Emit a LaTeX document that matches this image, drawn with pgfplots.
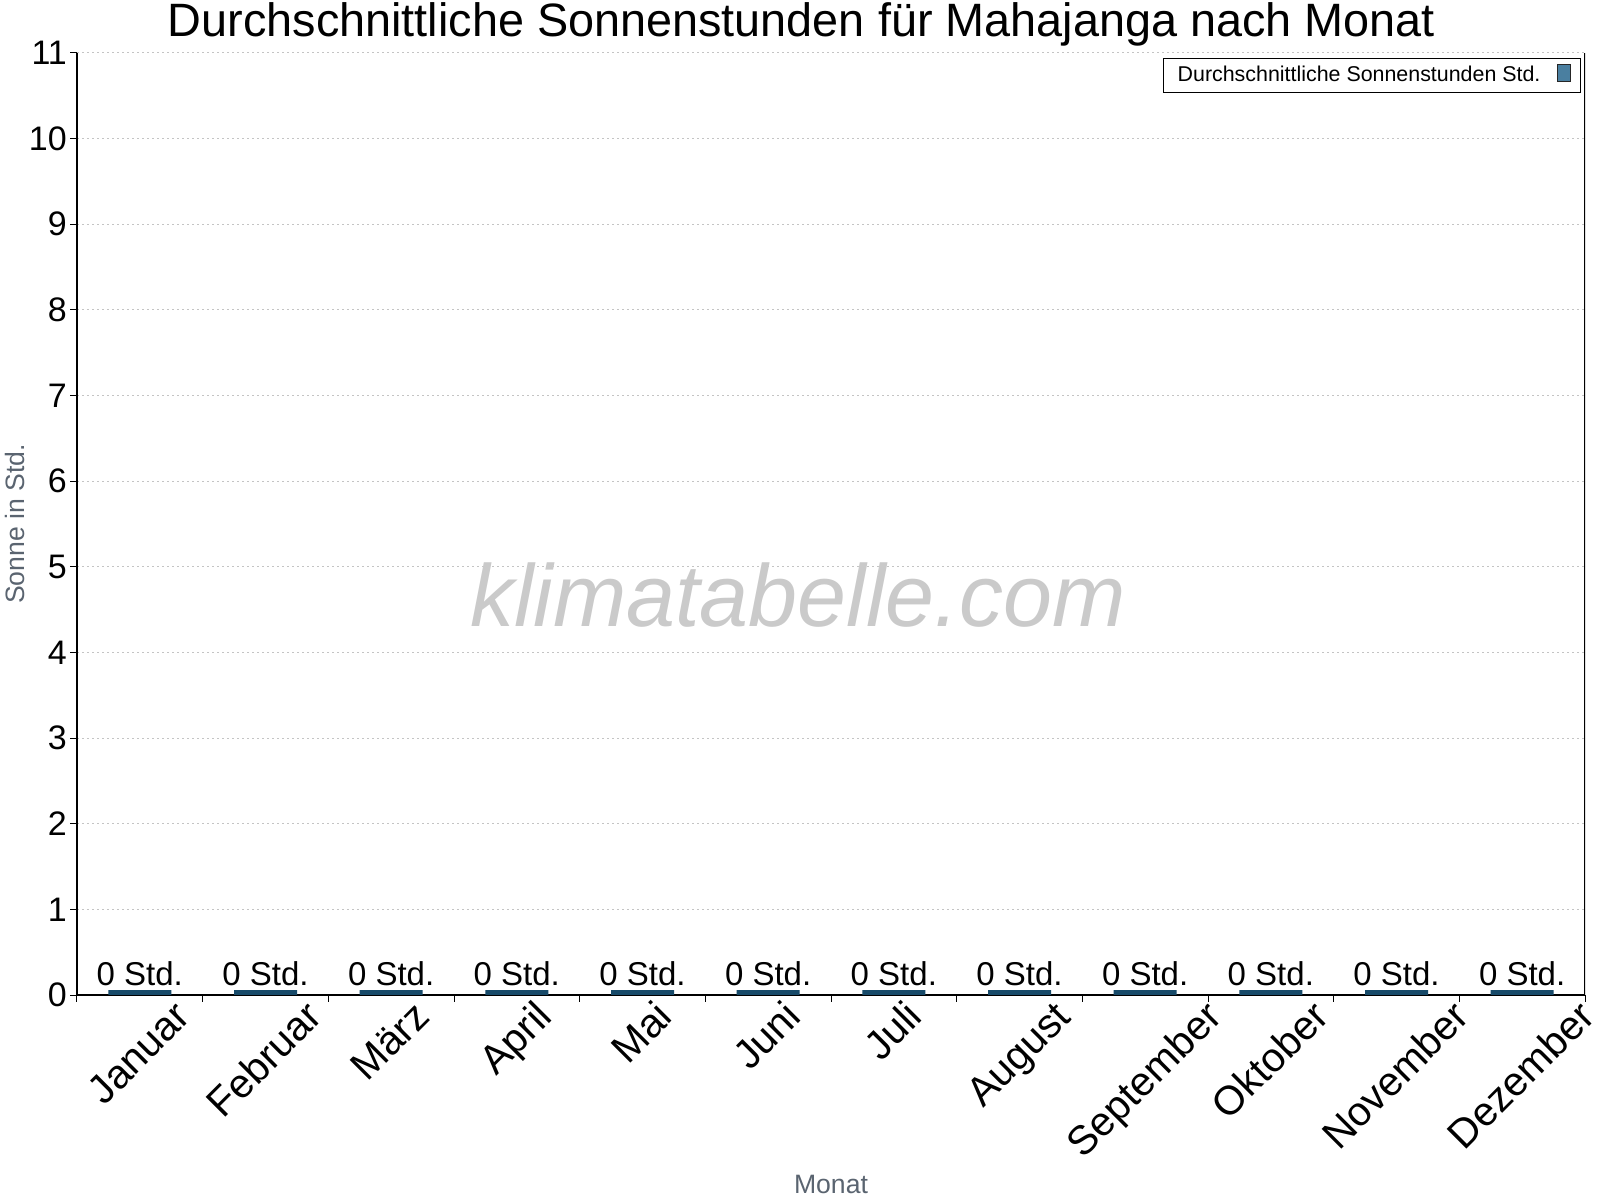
\documentclass[border=0pt]{standalone}
\usepackage{fontspec}
\setmainfont{Liberation Sans}
\usepackage{pgfplots}
\usepackage{pgfplotstable}
\pgfplotsset{compat=1.18}
\definecolor{barcol}{HTML}{174A69}
\definecolor{legcol}{HTML}{4A7FA0}
\definecolor{labgray}{HTML}{5A6470}
\definecolor{gridgray}{HTML}{C4C4C4}
\definecolor{wmgray}{HTML}{CACACA}

% month label: shifts the rotated text to the right by half its width * cos45
\newlength\labw
\newcommand\ml[1]{\settowidth{\labw}{#1}\raisebox{-0.25\labw}{#1}\hspace*{-0.25\labw}}

\pgfplotstableread{
x sun
0 0
1 0
2 0
3 0
4 0
5 0
6 0
7 0
8 0
9 0
10 0
11 0
}\suntable

\begin{document}
\begin{tikzpicture}
\path[use as bounding box] (-38.5pt,-102.5pt) rectangle (761.5pt,497.5pt);
\begin{axis}[
  at={(0,0)}, anchor=south west,
  scale only axis, width=754pt, height=471pt,
  xmin=-0.5, xmax=11.5, ymin=0, ymax=11,
  axis x line*=bottom, axis y line*=left,
  axis line style={line width=0.6pt, black},
  xtick={-0.5,0.5,...,11.5},
  x tick label as interval,
  xticklabels={\ml{Januar},\ml{Februar},\ml{März},\ml{April},\ml{Mai},\ml{Juni},\ml{Juli},\ml{August},\ml{September},\ml{Oktober},\ml{November},\ml{Dezember}},
  ytick={0,1,...,11},
  tick align=outside,
  major tick length=3.4pt,
  tick style={black, line width=0.5pt},
  /pgf/number format/assume math mode=true,
  yticklabel style={font=\fontsize{17}{20}\selectfont, anchor=east, inner sep=0pt, xshift=-1.5pt},
  xticklabel style={font=\fontsize{20.3}{24}\selectfont, inner sep=0pt, anchor=base east, xshift=4.5pt, yshift=-8.5pt, rotate=45},
  ymajorgrids,
  grid style={gridgray, line width=0.5pt, dash pattern=on 1pt off 1.5pt},
  every axis title shift=0pt,
  title={Durchschnittliche Sonnenstunden für Mahajanga nach Monat},
  title style={font=\fontsize{23.4}{26}\selectfont, at={(axis description cs:0.4804,1.018)}, anchor=base, yshift=0pt},
  xlabel={Monat},
  xlabel style={font=\fontsize{13.3}{16}\selectfont, text=labgray, at={(axis description cs:0.5,-0.2102)}, anchor=base},
  ylabel={Sonne in Std.},
  ylabel style={font=\fontsize{13.3}{16}\selectfont, text=labgray, at={(axis description cs:-0.0411,0.5)}, anchor=center},
  legend style={at={(axis description cs:0.99735,0.9947)}, anchor=north east, draw=black, line width=0.5pt, font=\fontsize{10.7}{13}\selectfont, inner xsep=5pt, inner ysep=2pt,
    /tikz/every odd column/.append style={column sep=6pt}},
  legend cell align=left,
  legend plot pos=right,
  legend image code/.code={\draw[draw=black!85, line width=0.5pt, fill=legcol] (0pt,-4.25pt) rectangle (6.5pt,4.25pt);},
]
\node[font=\fontsize{44}{48}\selectfont\itshape, text=wmgray, anchor=base] at (rel axis cs:0.478,0.3917) {klimatabelle.com};
\addplot[ybar, bar width=31.5pt, draw=barcol, fill=barcol, line width=2.5pt, yshift=1.25pt,
  nodes near coords={\pgfmathprintnumber{\pgfplotspointmeta}~Std.},
  every node near coord/.append style={font=\fontsize{16.5}{20}\selectfont, text=black, anchor=base, inner sep=0pt, yshift=3.75pt}]
  table[x=x, y=sun]{\suntable};
\addlegendentry{Durchschnittliche Sonnenstunden Std.}
\draw[line width=0.6pt, black] (rel axis cs:1,0) -- (rel axis cs:1,1);
\end{axis}
\end{tikzpicture}
\end{document}
